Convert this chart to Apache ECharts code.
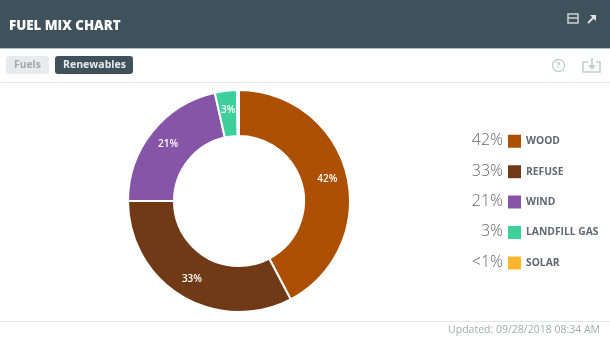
<!DOCTYPE html>
<html><head><meta charset="utf-8">
<style>html,body{margin:0;padding:0;background:#fff}#c{width:610px;height:358px}</style>
<script src="https://cdn.jsdelivr.net/npm/echarts@6/dist/echarts.min.js"></script>
</head><body><div id="c"></div>
<script>
const categories = ['WOOD','REFUSE','WIND','LANDFILL GAS','SOLAR'];
const shares = [42.3,32.7,21.5,3.2,0.3];
const shareLabels = ['42%','33%','21%','3%','<1%'];
const colors = ['#ad4f00','#713a16','#8755a8','#3dd09a','#fcb72e'];
const title = 'FUEL MIX CHART';
const tabs = ['Fuels','Renewables'];
const updated = 'Updated: 09/28/2018 08:34 AM';

const F = '"Open Sans", sans-serif';
const chart = echarts.init(document.getElementById('c'), null, {renderer:'canvas'});
const legendRows = [140.5,171.5,201.5,231.5,262.5];
const g = [
  {type:'rect',shape:{x:0,y:0,width:610,height:48},style:{fill:'#3f525c'}},
  {type:'rect',shape:{x:0,y:48,width:610,height:1},style:{fill:'#b9bfc3'}},
  {type:'text',x:9,y:26,style:{text:title,fill:'#fff',font:'800 13.3px '+F,textVerticalAlign:'middle'}},
  {type:'rect',shape:{x:568,y:14,width:10,height:9},style:{fill:'none',stroke:'#c9d0d4',lineWidth:1.5}},
  {type:'line',shape:{x1:568,y1:18,x2:578,y2:18},style:{stroke:'#c9d0d4',lineWidth:1.5}},
  {type:'line',shape:{x1:588,y1:23,x2:595,y2:16},style:{stroke:'#dfe4e6',lineWidth:1.8}},
  {type:'polygon',shape:{points:[[590,15],[596,15],[596,21]]},style:{fill:'#dfe4e6'}},
  {type:'rect',shape:{x:6,y:56,width:43,height:18,r:3},style:{fill:'#e8eaec'}},
  {type:'text',x:27.5,y:65,style:{text:tabs[0],fill:'#a3a8ac',font:'700 10.3px '+F,textAlign:'center',textVerticalAlign:'middle'}},
  {type:'rect',shape:{x:55,y:56,width:78,height:18,r:3},style:{fill:'#3f525c'}},
  {type:'text',x:94.5,y:65,style:{text:tabs[1],fill:'#e6eaec',font:'700 10.5px '+F,textAlign:'center',textVerticalAlign:'middle'}},
  {type:'circle',shape:{cx:558.5,cy:65.5,r:6},style:{fill:'none',stroke:'#c8cccf',lineWidth:1.3}},
  {type:'text',x:558.5,y:66,style:{text:'?',fill:'#c0c4c7',font:'700 8px '+F,textAlign:'center',textVerticalAlign:'middle'}},
  {type:'polyline',shape:{points:[[588,62],[583,62],[583,72],[600,72],[600,62],[596,62]]},style:{fill:'none',stroke:'#c8cccf',lineWidth:1.5}},
  {type:'line',shape:{x1:592,y1:58,x2:592,y2:68},style:{stroke:'#c8cccf',lineWidth:1.6}},
  {type:'polygon',shape:{points:[[588,65],[596,65],[592,70]]},style:{fill:'#c8cccf'}},
  {type:'rect',shape:{x:0,y:82,width:610,height:1},style:{fill:'#e4e6e8'}},
  {type:'rect',shape:{x:0,y:321,width:610,height:1},style:{fill:'#e4e6e8'}},
  {type:'text',x:600,y:330,style:{text:updated,fill:'#a6aaad',font:'400 10.5px '+F,textAlign:'right',textVerticalAlign:'middle'}}
];
shareLabels.forEach((t,i)=>g.push({type:'text',x:503,y:legendRows[i],style:{text:t,fill:'#666',font:'300 16px '+F,textAlign:'right',textVerticalAlign:'middle'}}));

chart.setOption({
  animation:false,
  color:colors,
  graphic:{elements:g},
  legend:{
    orient:'vertical',left:506,top:132.8,padding:0,itemWidth:15,itemHeight:15,itemGap:13.4,
    icon:'rect',selectedMode:false,data:categories,
    textStyle:{color:'#5f6873',fontFamily:F,fontWeight:700,fontSize:10.3,lineHeight:15,padding:[0,0,0,-1]}
  },
  series:[{
    type:'pie',center:[239,201],radius:[65,111],startAngle:90,clockwise:true,avoidLabelOverlap:false,
    itemStyle:{borderColor:'#fff',borderWidth:2},
    label:{show:true,position:'inside',color:'#fff',fontFamily:F,fontSize:10,fontWeight:600,
      formatter:p=>p.dataIndex<4?shareLabels[p.dataIndex]:''},
    labelLine:{show:false},
    data:categories.map((n,i)=>({name:n,value:shares[i]}))
  }]
});
</script></body></html>
